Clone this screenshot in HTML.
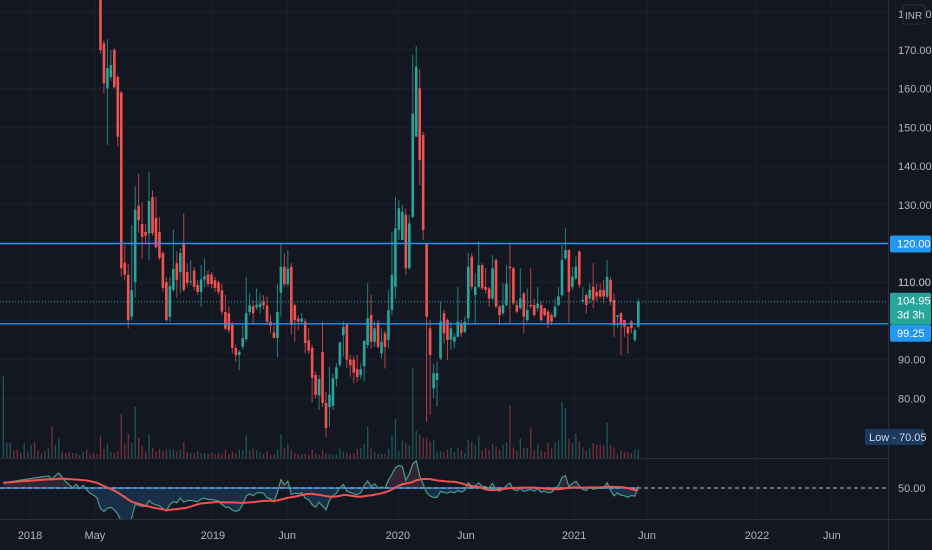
<!DOCTYPE html>
<html><head><meta charset="utf-8"><style>
html,body{margin:0;padding:0;background:#131722;}
svg{display:block;font-family:"Liberation Sans",sans-serif;}
</style></head><body>
<svg id="chart" width="932" height="550" viewBox="0 0 932 550" xmlns="http://www.w3.org/2000/svg">
<defs><clipPath id="mainClip"><rect x="0" y="0" width="888" height="458"/></clipPath>
<clipPath id="rsiClip"><rect x="0" y="459" width="888" height="60"/></clipPath></defs>
<rect x="0" y="0" width="932" height="550" fill="#131722"/>
<g id="grid"></g>
<g id="vol" clip-path="url(#mainClip)"></g>
<g id="candles" clip-path="url(#mainClip)"></g>
<g id="hlines"></g>
<g id="rsi" clip-path="url(#rsiClip)"></g>
<line x1="0" y1="458.5" x2="888" y2="458.5" stroke="#2a2e39"/>
<line x1="0" y1="519.5" x2="932" y2="519.5" stroke="#2a2e39"/>
<line x1="888.5" y1="0" x2="888.5" y2="550" stroke="#2a2e39"/>
<g id="axis"></g>
<g id="taxis"></g>
</svg>
<script>
const opens=[196,200,206,212,208,204,201,209,205,214,210,206,215,211,218,213,219,224,219,214,210,206,211,205,210,204,199,196,
190,171.7,160.1,163,170,163,159,115,111.9,101.1,110,129.7,125,123,122.6,132,126.6,123,117.5,110,101,108,114.9,112.6,120,112.6,110,113,109.3,107.5,110.7,112,112,110.5,110,107.9,102.3,102,99,93,91.2,93.3,95.3,102.3,103.8,103.5,103.6,105,104,99.8,97,95.6,107.3,114,109.5,114,104,100.6,99.8,99.8,95,93,86,80.8,92,78.8,77.7,78,85,88.6,96.3,99,90,90,87.5,86,88.3,93.8,
101.5,94.6,99.5,91.6,96.8,95.1,102.8,108.8,123.5,120.9,127.4,113.6,126.9,147.6,160.1,148,120,98.1,82.6,84.7,90.3,102,100.2,95.1,94.6,95.9,99.4,97.2,100.7,116.6,106.7,108.8,114.4,108.8,108.4,105.8,115.7,103.7,102,104.1,114,113.6,104.1,103.3,107.1,100.2,104.1,104.1,103.3,104.1,103.3,102.4,101.5,101.1,104.1,106.7,116.2,118.3,108.8,111,117.9,105,106.7,105.8,108.8,107.5,108,108,106.3,110.6,105.4,101.1,102,100.2,98.5,99.8,95.1,98.5];
const highs=[203,209,215,214,211,207,212,212,217,217,213,218,218,221,221,222,227,227,222,217,213,214,214,213,213,207,202,199,
195,172.5,172.8,170,170.5,163.5,159.5,119.6,114.7,124.8,134.8,138,130.7,125,138.6,133.7,132,126.9,118,111.4,111.4,123.6,118,118.8,127.8,114.9,115.7,114,110.5,114.4,116.2,113,112.6,111.4,110.5,109.7,106.7,103.7,99.8,93.8,92.5,99,111.4,107.1,105.4,108.4,107.1,106.7,106.3,101.5,99.4,109.5,120,117.5,118.3,114.9,104.5,101.5,102,100.6,98.1,93.8,86.9,86,99.8,81.7,88.2,86.4,89,94.6,99.8,99.5,91.2,91,91.2,89,95.1,109.7,
106.7,99.8,100.2,98.1,97.5,108,123.1,132.1,131.2,129.9,129.1,127.4,168.7,171,165,148.9,120,100.2,89,89.5,105,102.8,100.7,99.8,96.8,108.8,100.2,101.1,117.5,117.5,112.3,120.5,114.9,113.6,108.8,117,116.2,104.1,109.7,114.4,120,114,105.4,113.6,107.5,108.4,113.6,105.8,108.8,105,103.3,102.8,102,105.8,108.8,119.6,123.9,118.5,114,116.6,118.2,108.8,107.1,109.7,114.9,109.7,109.7,110.6,115.7,111.4,107.1,101.5,102.4,100.2,98.5,100.2,98.5,105.8];
const lows=[193,197,203,205,201,198,198,202,202,207,203,203,208,208,210,210,216,216,211,207,203,203,202,202,201,196,193,189,
169.1,158.8,145.5,162,160.1,145,111.4,110.5,98,100.2,106,122.7,116,120,115.7,122,118.7,115.7,107.5,99.8,99.8,107.5,106,107.1,107.5,108.8,109.3,108,106.7,103.6,108.8,108.8,108.4,107.5,106.7,101.5,97.6,96.8,91.6,89.5,87.3,92.5,94.6,101.5,99,102.8,101.9,103,99,96.8,95.5,90.6,101.1,108.8,108.8,96.4,94.6,97.6,99,91.6,91.5,79,80,77,77.8,70.05,72.6,77,83,88,90.8,87.7,85.6,83.9,84.3,85,84.3,93,
92.9,93.3,92.9,90.3,87.7,92.9,101.5,105.8,120.9,120.9,111.9,113.2,126.5,147.6,135.1,120.9,74,75.7,80,77.8,89.9,94.2,89.9,92.5,92.9,95.9,95.9,96.8,99.4,108,99.4,108.4,108,107.1,103.7,105.4,103.3,98.9,101.5,103.7,99.4,104.1,102,102.8,96.8,99.8,103.3,101.1,102.4,99.8,101.1,98.1,98.9,100.7,103.7,106.3,115.7,99.4,108,110.6,108.4,104.5,102,104.5,103.3,105,105.8,104.5,105.8,104.1,95.9,98.1,91.2,95.9,91.6,96.8,94.6,98.1];
const closes=[200,206,212,208,204,201,209,205,214,210,206,215,211,218,213,219,224,219,214,210,206,211,205,210,204,199,196,192,
170,161.4,165.3,166.1,160.4,147.6,113.6,112,100.2,108,128.7,126,121.7,122,131,122.7,119,116.3,108.5,100.2,109,113.4,110.6,117.5,108,109.8,110.3,108.8,107.5,110.7,111.5,109.5,109.5,108.5,107.5,102.4,98,97.6,93,91.2,92,95.6,102,104,102,104.2,104.5,104,99.8,98.8,95.6,102.3,114,109.5,113.5,99,100.2,99.8,100.6,94.3,92.3,85.3,80.9,85,78.8,72.3,80.9,85.2,88,94.5,98.4,90,88.5,86.6,85.5,87.5,94.8,100.7,
94.6,98.1,93.3,94.6,93.3,102.8,111.9,123.9,129.1,128.2,113.6,125.2,153.6,165.7,141.6,123.5,101.1,91.2,86.5,86.5,99.8,96.8,95.1,98.1,95.9,99.8,96.8,99.8,114,108.8,108.8,114.4,108.4,108,105.8,113.6,103.7,101.5,104.1,109.7,113.6,104.5,102.4,105.8,101.1,102.8,103.7,101.5,104.5,100.2,101.5,99.4,99.8,103.7,106.3,115.7,118.3,107.5,111.4,114,109.3,105.4,104.1,108,105.4,106.3,106.3,106.3,111.4,105,98.9,101.5,98.9,98.5,96.8,98.1,97.6,104.95];
const volumes=[245,45,45,25,25,15,45,20,38,50,25,15,22,28,95,40,58,20,15,18,15,15,10,18,25,12,15,12,67,28,43,18,15,20,132,43,73,45,153,60,35,20,73,30,20,28,22,25,25,25,20,25,48,18,15,15,20,15,15,12,15,12,15,12,25,12,20,15,25,25,68,25,30,22,18,12,20,10,12,25,70,30,42,25,15,12,10,12,10,25,15,10,25,15,12,
10,12,28,18,15,12,15,28,30,42,95,28,18,12,12,12,28,70,117,20,52,45,38,268,82,70,60,58,50,55,20,20,18,25,30,18,30,25,15,55,50,40,65,25,30,25,42,35,25,40,48,158,32,22,58,30,30,92,25,40,22,18,45,30,50,55,170,150,58,45,73,50,32,22,30,45,40,40,38,105,38,32,12,22,18,18,15,25,25];
const priceTicks=[170,160,150,140,130,110,90,80];
const timeLabels=["2018","May","2019","Jun","2020","Jun","2021","Jun","2022","Jun"];
const timeWeeks=[7.7,26.4,60.4,81.8,113.7,133.3,164.5,185.5,217.2,238.8];
const levels=[120,99.25];
const lastPrice=104.95, lowPrice=70.05;

const NS="http://www.w3.org/2000/svg";
function mk(tag,attrs,parent){const e=document.createElementNS(NS,tag);for(const k in attrs)e.setAttribute(k,attrs[k]);parent.appendChild(e);return e;}
const xOf=i=>3.3+i*3.47;
const yOf=p=>50+(170-p)*3.87;
const yRsi=r=>488-(r-50)*1.05;
const UP="#26a69a",DN="#ef5350";
const G=document.getElementById('grid'),V=document.getElementById('vol'),C=document.getElementById('candles'),H=document.getElementById('hlines'),R=document.getElementById('rsi'),A=document.getElementById('axis'),T=document.getElementById('taxis');

priceTicks.concat([120,100,180]).forEach(p=>{
  const l=mk('line',{x1:0,x2:888,y1:yOf(p),y2:yOf(p),stroke:'#1c202b'},G);
  
  
});
timeWeeks.forEach(w=>{
  const l=mk('line',{x1:xOf(w),x2:xOf(w),y1:0,y2:519,stroke:'#1c202b'},G);
  
  
});

closes.forEach((c,i)=>{
  const o=opens[i],up=c>=o,col=up?UP:DN,x=xOf(i);
  const v=mk('rect',{x:x-0.6,y:458-volumes[i]/3,width:1.3,height:volumes[i]/3,fill:col,opacity:0.45},V);
  
  
  const w=mk('line',{x1:x,x2:x,y1:yOf(highs[i]),y2:yOf(lows[i]),stroke:col,'stroke-width':1,opacity:0.75},C);
  
  
  const top=yOf(Math.max(o,c)),bot=yOf(Math.min(o,c));
  const b=mk('rect',{x:x-1.3,y:top,width:2.6,height:Math.max(1,bot-top),fill:col},C);
  
  
});

levels.forEach(p=>{
  const l=mk('line',{x1:0,x2:888,y1:yOf(p),y2:yOf(p),stroke:'#2196f3','stroke-width':1.4},H);
  
  
});
const lp=mk('line',{x1:0,x2:888,y1:yOf(lastPrice),y2:yOf(lastPrice),stroke:UP,'stroke-dasharray':'1,2'},H);



const n=closes.length,rsi=new Array(n).fill(null);
let ag=0,al=0;const P=14;
for(let i=1;i<n;i++){const d=closes[i]-closes[i-1],g=Math.max(d,0),l=Math.max(-d,0);
  if(i<=P){ag+=g/P;al+=l/P;if(i===P)rsi[i]=100-100/(1+ag/(al||1e-9));}
  else{ag=(ag*(P-1)+g)/P;al=(al*(P-1)+l)/P;rsi[i]=100-100/(1+ag/(al||1e-9));}}
for(let i=0;i<P;i++)rsi[i]=55+i*0.5;
const ma=rsi.map((r,i)=>{let s=0,k=0;for(let j=Math.max(0,i-19);j<=i;j++){s+=rsi[j];k++;}return s/k;});
let fa='M'+xOf(0)+','+yRsi(50);
rsi.forEach((r,i)=>{fa+=' L'+xOf(i)+','+yRsi(r);});
fa+=' L'+xOf(n-1)+','+yRsi(50)+' Z';
const clipA=mk('clipPath',{id:'above'},R);mk('rect',{x:0,y:455,width:888,height:33},clipA);
const clipB=mk('clipPath',{id:'below'},R);mk('rect',{x:0,y:488,width:888,height:35},clipB);
const f1=mk('path',{d:fa,fill:'#3a2b3a',opacity:0.8,'clip-path':'url(#above)'},R);


const f2=mk('path',{d:fa,fill:'#1b3652',opacity:0.8,'clip-path':'url(#below)'},R);


const mid=mk('line',{x1:0,x2:xOf(n-1),y1:488,y2:488,stroke:'#2196f3','stroke-width':1.5},R);


const dash=mk('line',{x1:0,x2:888,y1:488,y2:488,stroke:'#b2b5be','stroke-dasharray':'4,3'},R);


const rl=mk('polyline',{points:rsi.map((r,i)=>xOf(i)+','+yRsi(r)).join(' '),fill:'none',stroke:'#4a9a8c','stroke-width':1.2},R);


const ml=mk('polyline',{points:ma.map((r,i)=>xOf(i)+','+yRsi(r)).join(' '),fill:'none',stroke:DN,'stroke-width':2},R);



function label(txt,y,parent,fill){const t=mk('text',{x:898,y:y+4,fill:fill||'#b2b5be','font-size':11},parent);t.textContent=txt;return t;}
priceTicks.concat([110]).forEach(p=>{
  const t=label(p.toFixed(2),yOf(p),A);
  
  
});
const t180=label('180.00',14,A);


const inr=mk('rect',{x:903,y:5,width:22,height:19,rx:2,fill:'#131722',stroke:'#2a2e39'},A);


const inrT=mk('text',{x:905,y:19,fill:'#b2b5be','font-size':10},A);inrT.textContent='INR';



function badge(name,y,h,fill,lines){
  const r=mk('rect',{x:890,y:y,width:41,height:h,rx:2,fill:fill},A);
  
  
  lines.forEach((s,k)=>{const t=mk('text',{x:897,y:y+12+k*14,fill:'#ffffff','font-size':11},A);t.textContent=s;
    
    });
}
badge('level-120-label',yOf(levels[0])-8,17,'#2196f3',[levels[0].toFixed(2)]);
badge('level-99-label',yOf(levels[1])+1,17,'#2196f3',[levels[1].toFixed(2)]);
badge('last-price-label',yOf(lastPrice)-9,32,UP,[lastPrice.toFixed(2),'3d 3h']);
const lowR=mk('rect',{x:865,y:429,width:59,height:16,rx:2,fill:'#1c3a5e'},A);


const lowT=mk('text',{x:869,y:441,fill:'#d1d4dc','font-size':11},A);lowT.textContent='Low - '+lowPrice.toFixed(2);


const r50=label('50.00',488,A);



timeLabels.forEach((s,k)=>{
  const t=mk('text',{x:xOf(timeWeeks[k]),y:539,fill:'#b2b5be','font-size':11,'text-anchor':'middle'},T);
  t.textContent=s;
  
  
});
</script>
</body></html>
